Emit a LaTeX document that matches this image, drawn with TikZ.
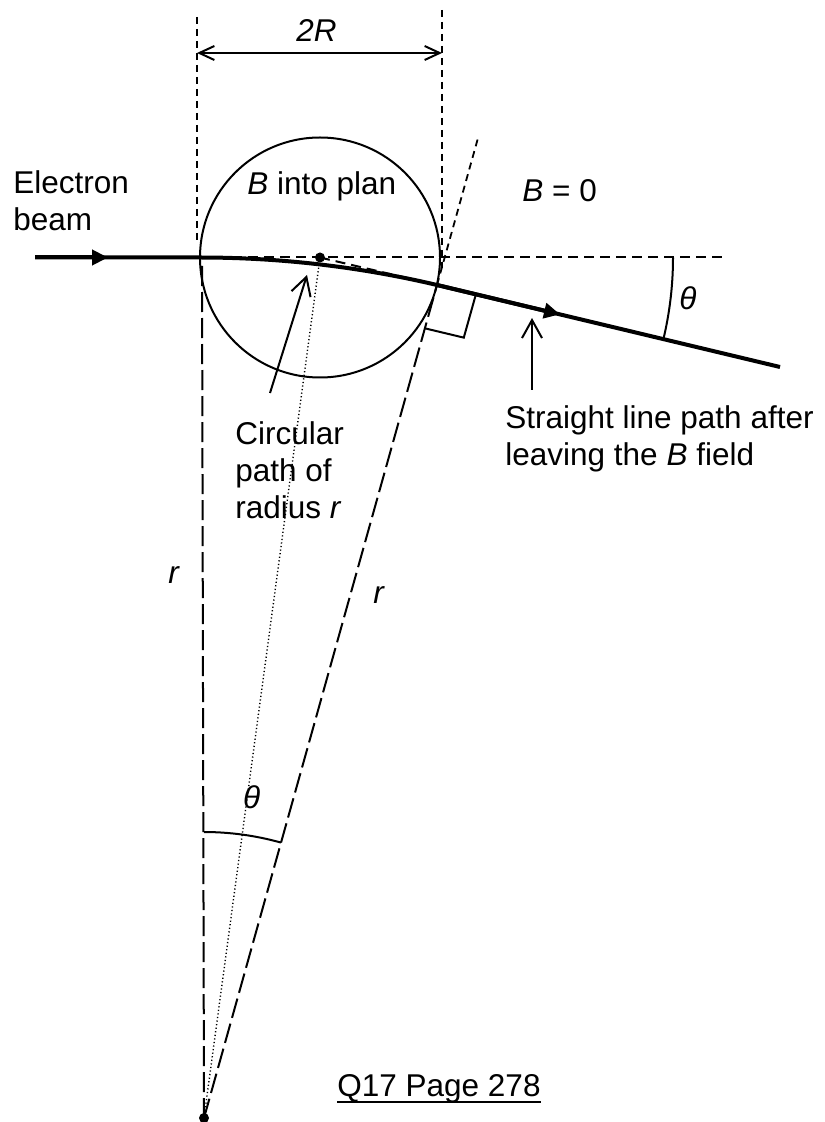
\documentclass[tikz,border=0pt]{standalone}
\usepackage{fontspec}
\setmainfont{Liberation Sans}
\usetikzlibrary{arrows.meta,calc}
\begin{document}
\begin{tikzpicture}[x=0.5pt,y=-0.5pt,
  txt/.style={font=\fontsize{15.75pt}{18.5pt}\selectfont, inner sep=0pt},
  beamline/.style={line width=2pt, line join=round},
  thinline/.style={line width=1pt},
  sdash/.style={line width=0.9pt, dash pattern=on 3.5pt off 2.5pt},
  mdash/.style={line width=1pt, dash pattern=on 5pt off 3pt},
  ldash/.style={line width=1pt, dash pattern=on 10pt off 3pt},
  dotline/.style={line width=0.7pt, dash pattern=on 0.6pt off 1.2pt},
  barb/.style={-{Straight Barb[length=9pt,width=10pt]}},
  tri/.style={-{Triangle[length=8pt,width=7.5pt]}},
  ]
\useasboundingbox (0,0) rectangle (824,1122);
% key points
\coordinate (Cc) at (320,257.5);
\coordinate (A) at (200,257.5);
\coordinate (E) at (437,285);
\coordinate (O) at (204,1118);
\coordinate (S) at (35,257.5);
\coordinate (P) at (780,367);
\coordinate (H) at (725,257.5);
\coordinate (T) at (478,138);
\coordinate (L1) at (197,17);
\coordinate (L2) at (197,243);
\coordinate (R1) at (442,10);
\coordinate (R2) at (442,267);
\coordinate (Ltop) at (202,262);
\coordinate (D1) at (197,53);
\coordinate (D2) at (442,53);
\coordinate (tip1) at (108,257.5);
\coordinate (tip2) at ($(E)!0.3587!(P)$);
\coordinate (c1) at (270,393);
\coordinate (c2) at (307,275);
\coordinate (s1) at (532,390);
\coordinate (s2) at (532,318);

% field region
\draw[thinline] (Cc) circle[radius=120];

% construction lines
\draw[mdash] (A) -- (H);
\draw[mdash] (Cc) -- (E);
\draw[sdash] (L1) -- (L2);
\draw[sdash] (R1) -- (R2);
\draw[sdash] (E) -- (T);
\draw[ldash] (O) -- (E);
\draw[ldash] (O) -- (Ltop);
\draw[dotline] (O) -- (Cc);

% 2R dimension
\draw[thinline, {Straight Barb[length=7.5pt,width=7pt]}-{Straight Barb[length=7.5pt,width=7pt]}] (D1) -- (D2);

% electron path
\draw[beamline] (S) -- (A) .. controls ($(A)!0.667!(Cc)$) and ($(E)!0.667!(Cc)$) .. (E) -- (P);
\draw[beamline, tri] (S) -- (tip1);
\draw[beamline, tri] (E) -- (tip2);

% right angle mark
\coordinate (ra1) at ($(E)!20pt!(P)$);
\coordinate (ra3) at ($(E)!22.5pt!(O)$);
\coordinate (ra2) at ($(ra1)+(ra3)-(E)$);
\draw[thinline] (ra1) -- (ra2) -- (ra3);

% angle arcs
\draw[thinline] ($(Cc)+(353,0)$) arc[start angle=0, end angle=13.4, radius=353];
\draw[thinline] ($(O)+(0,-286)$) arc[start angle=-90, end angle=-74.4, radius=286];

% label arrows
\draw[thinline, barb] (c1) -- (c2);
\draw[thinline, barb] (s1) -- (s2);

% dots
\fill (Cc) circle[radius=5];
\fill (O) circle[radius=5];

% texts
\node[txt, anchor=north west, align=left] (eb) at (13,170) {Electron\\beam};
\node[txt, anchor=base west] (bin) at (247,195) {\textit{B} into plan};
\node[txt, anchor=base west] (b0) at (522,202) {\textit{B} = 0};
\node[txt, anchor=base west] (tr) at (296,42) {\textit{2R}};
\node[txt, anchor=north west, align=left] (circ) at (235,421) {Circular\\path of\\radius \textit{r}};
\node[txt, anchor=north west, align=left] (sl) at (505,405) {Straight line path after\\leaving the \textit{B} field};
\node[txt, anchor=base west] (r1) at (168,583) {\textit{r}};
\node[txt, anchor=base west] (r2) at (373,603) {\textit{r}};
\node[txt] (th1) at (251.7,797) {\textit{θ}};
\node[txt] (th2) at (688,298) {\textit{θ}};
\node[txt, anchor=base west] (q) at (337,1096.7) {Q17 Page 278};
\draw[line width=1.2pt] ([yshift=-2.6pt]q.base west) -- ([yshift=-2.6pt]q.base east);
\end{tikzpicture}
\end{document}
